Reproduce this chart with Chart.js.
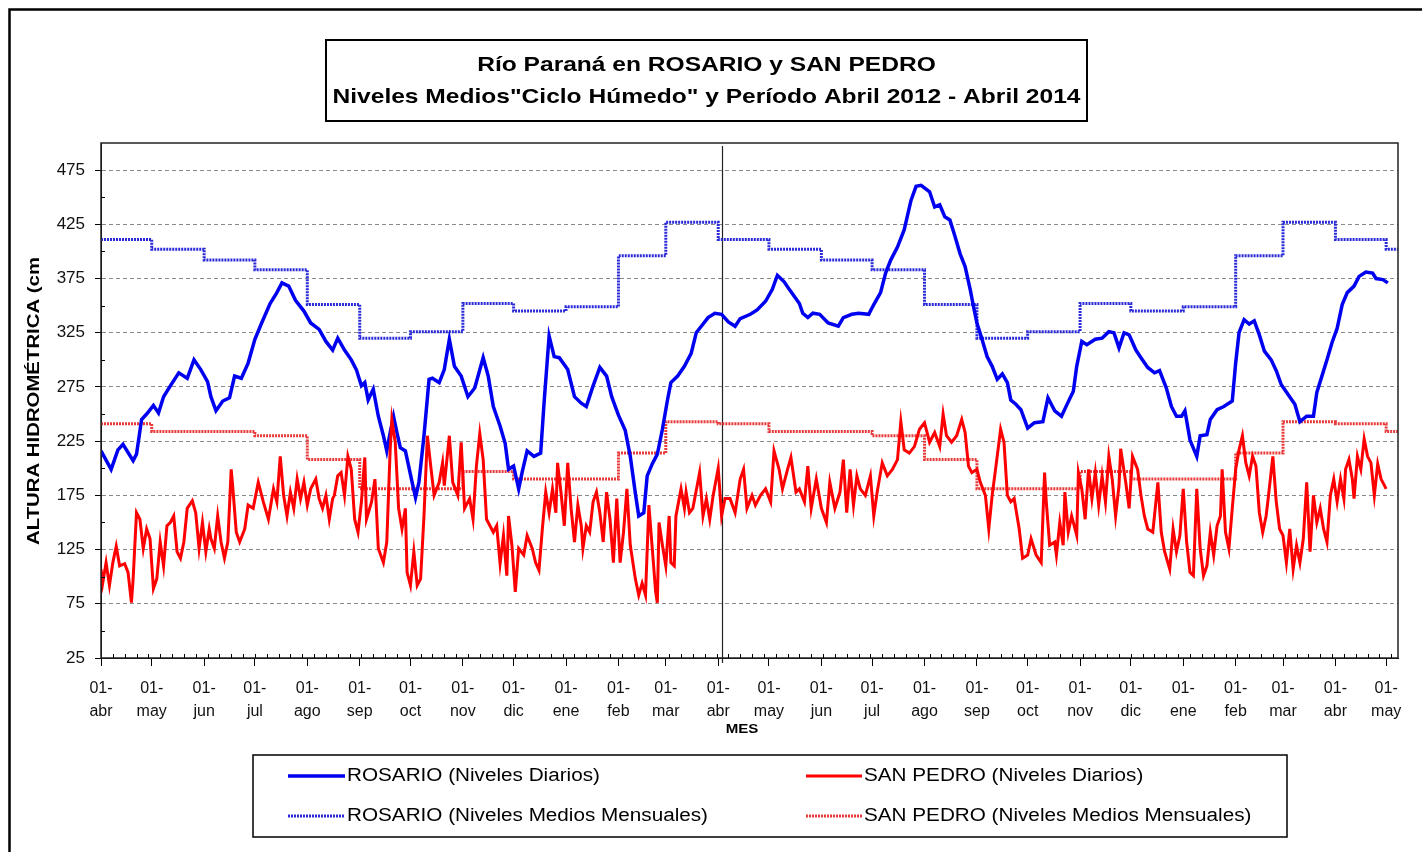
<!DOCTYPE html>
<html>
<head>
<meta charset="utf-8">
<title>Río Paraná en ROSARIO y SAN PEDRO</title>
<script src="https://cdn.jsdelivr.net/npm/chart.js@4.4.1/dist/chart.umd.min.js"></script>
<style>
  html, body { margin: 0; padding: 0; background: #fff; }
  canvas { display: block; }
</style>
</head>
<body>
<canvas id="grafico" width="1422" height="852"></canvas>
<script>
// niveles diarios: [dia desde 01-abr-2012, altura en cm]
const rosarioDiario = [
  [0,216],[6,199],[10,217],[13,222],[19,207],[21,213],[24,245],[27,250],[31,258],[34,251],[37,266],[41,276],
  [46,288],[51,283],[55,300],[59,291],[63,280],[65,266],[68,253],[72,262],[76,265],[79,285],[83,283],[87,297],
  [91,319],[95,334],[100,352],[104,362],[107,371],[111,368],[115,355],[120,345],[124,334],[129,328],[133,317],
  [137,309],[140,320],[144,309],[148,300],[151,291],[154,276],[156,279],[158,263],[161,273],[164,248],[167,230],
  [169,216],[171,233],[173,248],[175,233],[177,219],[180,216],[184,187],[186,173],[188,187],[191,230],[194,282],
  [196,283],[200,279],[203,291],[206,319],[209,294],[213,285],[217,266],[221,274],[226,302],[229,285],[232,257],
  [236,239],[239,223],[241,199],[244,202],[247,181],[249,196],[252,216],[256,211],[260,214],[262,260],[265,322],
  [268,303],[271,302],[276,291],[280,266],[284,260],[287,257],[291,276],[295,293],[299,285],[302,266],[306,249],
  [310,235],[313,211],[316,177],[318,156],[321,159],[323,193],[326,204],[329,213],[332,236],[335,263],[337,279],
  [341,285],[345,294],[349,306],[352,325],[355,331],[359,339],[363,343],[367,342],[371,335],[375,331],[378,338],
  [384,342],[388,346],[393,354],[397,365],[400,378],[404,372],[407,365],[413,352],[415,343],[418,339],[421,343],
  [425,342],[430,334],[436,331],[439,339],[444,342],[448,343],[454,342],[457,351],[461,362],[464,380],[467,392],
  [471,404],[475,420],[479,447],[482,460],[485,461],[490,455],[493,441],[496,443],[499,432],[502,429],[505,414],
  [508,398],[511,386],[514,365],[516,349],[518,334],[521,319],[524,303],[527,294],[530,282],[533,287],[536,279],
  [538,263],[541,259],[544,254],[548,237],[552,242],[557,243],[560,265],[564,253],[568,248],[571,258],[575,271],
  [577,294],[580,317],[583,314],[588,319],[592,320],[596,326],[599,325],[602,311],[605,325],[608,323],[612,309],
  [615,302],[619,293],[623,288],[626,290],[630,274],[633,257],[636,248],[639,248],[641,253],[644,226],[648,211],
  [650,230],[654,231],[656,245],[660,254],[664,257],[669,262],[671,297],[673,325],[676,337],[679,333],[682,336],
  [685,323],[688,308],[692,300],[695,290],[698,277],[702,268],[706,259],[709,243],[713,248],[717,248],[719,270],
  [722,285],[725,300],[728,316],[731,329],[734,351],[737,362],[741,368],[744,377],[748,381],[752,380],[754,375],
  [758,374],[761,371]
];

const sanPedroDiario = [
  [0,107],[1,94],[3,113],[5,92],[7,113],[9,128],[11,110],[14,112],[16,104],[18,76],[19,98],[21,159],[23,153],
  [25,126],[27,144],[29,135],[31,89],[33,98],[35,132],[37,110],[39,147],[41,150],[43,156],[45,123],[47,117],
  [49,132],[51,163],[54,170],[56,159],[58,126],[60,150],[62,123],[64,144],[65,135],[67,126],[69,156],[71,132],
  [73,117],[75,132],[77,199],[78,181],[80,141],[82,132],[85,144],[87,166],[90,163],[93,187],[96,169],[99,153],
  [102,181],[104,169],[106,211],[108,175],[110,156],[112,178],[114,163],[116,190],[118,172],[120,187],[122,166],
  [124,181],[127,190],[129,172],[131,163],[133,175],[135,153],[137,172],[138,175],[140,193],[142,196],[144,175],
  [146,211],[148,199],[150,153],[152,141],[154,169],[156,210],[157,153],[160,169],[162,190],[164,126],[167,113],
  [169,132],[171,217],[172,245],[174,224],[176,163],[178,144],[180,163],[181,104],[183,92],[185,123],[187,92],
  [189,98],[191,156],[193,230],[195,202],[197,175],[200,187],[202,205],[203,184],[206,230],[208,187],[211,175],
  [213,224],[215,163],[218,172],[220,153],[222,202],[224,232],[226,208],[228,153],[230,147],[232,141],[234,147],
  [236,112],[238,138],[240,101],[241,156],[243,129],[245,86],[247,126],[250,120],[252,138],[255,126],[257,113],
  [259,106],[261,144],[263,178],[265,159],[267,181],[269,159],[270,205],[272,178],[274,147],[276,205],[278,163],
  [280,132],[282,166],[284,147],[285,126],[287,147],[289,141],[291,169],[293,178],[295,159],[297,132],[299,178],
  [301,153],[303,113],[305,172],[307,113],[309,141],[311,181],[313,129],[316,98],[318,83],[320,94],[322,83],
  [324,166],[326,126],[328,86],[329,76],[330,150],[332,129],[334,110],[336,156],[337,113],[339,110],[340,156],
  [343,181],[345,163],[346,178],[348,159],[350,163],[354,196],[356,156],[358,172],[360,153],[362,175],[365,200],
  [367,156],[369,172],[372,172],[375,159],[378,190],[380,199],[382,163],[385,175],[387,166],[390,175],[393,181],
  [396,169],[398,216],[401,199],[403,181],[406,199],[408,210],[411,178],[413,181],[416,169],[418,202],[420,163],
  [423,190],[426,163],[429,150],[431,187],[434,163],[437,178],[439,208],[441,159],[443,199],[445,166],[447,193],
  [449,181],[452,175],[455,193],[457,156],[459,178],[462,205],[465,193],[468,199],[471,208],[473,243],[475,217],
  [478,214],[481,220],[484,236],[487,242],[490,224],[493,233],[496,220],[498,250],[500,230],[503,224],[506,230],
  [509,245],[511,233],[513,202],[515,196],[518,199],[520,187],[523,175],[525,144],[527,175],[529,199],[532,236],
  [534,224],[536,175],[538,169],[540,172],[543,144],[545,117],[548,120],[550,135],[553,120],[556,113],[558,196],
  [559,169],[561,129],[564,132],[565,120],[567,150],[569,129],[570,178],[572,141],[574,156],[577,138],[578,196],
  [580,181],[582,153],[584,199],[586,172],[588,196],[590,166],[592,193],[594,169],[596,211],[598,190],[600,156],
  [602,184],[603,218],[606,187],[608,163],[610,211],[613,199],[615,175],[617,156],[619,144],[622,141],[625,187],
  [627,141],[629,123],[632,107],[634,144],[636,123],[638,138],[640,181],[642,132],[644,104],[646,101],[648,181],
  [650,126],[652,101],[654,110],[656,141],[658,120],[660,147],[662,156],[663,199],[665,141],[667,126],[669,163],
  [671,199],[673,217],[675,230],[677,205],[679,193],[681,211],[683,202],[685,159],[687,141],[689,156],[690,169],
  [693,211],[695,169],[697,144],[699,138],[701,113],[703,144],[705,107],[707,129],[709,113],[711,135],[713,187],
  [715,123],[717,175],[719,150],[721,163],[723,144],[725,132],[727,175],[729,190],[731,169],[733,190],[735,172],
  [736,199],[738,208],[740,190],[741,172],[743,211],[745,199],[747,227],[749,211],[751,205],[753,175],[755,204],
  [757,190],[760,181]
];

// medias mensuales del ciclo humedo, de abril a marzo
const mediaRosario = [411, 402, 392, 383, 351, 320, 326, 352, 345, 349, 396, 427];
const mediaSanPedro = [241, 234, 234, 230, 208, 181, 181, 197, 190, 190, 214, 243];

const meses = ['abr', 'may', 'jun', 'jul', 'ago', 'sep', 'oct', 'nov', 'dic', 'ene', 'feb', 'mar'];
const ticksY = [25, 75, 125, 175, 225, 275, 325, 375, 425, 475];
const titulo = ['Río Paraná en ROSARIO y SAN PEDRO', 'Niveles Medios"Ciclo Húmedo" y Período Abril 2012 - Abril 2014'];
const etiquetaY = 'ALTURA HIDROMÉTRICA (cm';
const etiquetaX = 'MES';

const DIA_FIN = 767;    // borde derecho del eje
const DIA_CORTE = 367;  // linea vertical en abril 2013
const FUENTE = '"Liberation Sans", Arial, sans-serif';

const AZUL = '#0000f0';
const ROJO = '#ff0000';
const AZUL_MEDIA = '#2a2ad8';
const ROJO_MEDIA = '#e83a3a';

// dias de inicio de cada mes desde 01-abr-2012 hasta 01-may-2014
const inicio = Date.UTC(2012, 3, 1);
const inicioMes = [];
for (let i = 0; i <= 25; i++) {
  inicioMes.push((Date.UTC(2012, 3 + i, 1) - inicio) / 86400000);
}

function puntos(serie) {
  return serie.map(([x, y]) => ({ x, y }));
}

function escalones(media) {
  const pts = inicioMes.map((d, i) => ({ x: d, y: media[i % 12] }));
  pts.push({ x: DIA_FIN, y: media[(inicioMes.length - 1) % 12] });
  return pts;
}

function texto(ctx, str, x, y, font, align, estirar, rot) {
  ctx.save();
  ctx.translate(x, y);
  if (rot) ctx.rotate(rot);
  ctx.scale(estirar, 1);
  ctx.font = font;
  ctx.textAlign = align;
  ctx.textBaseline = 'middle';
  ctx.fillStyle = '#000';
  ctx.fillText(str, 0, 0);
  ctx.restore();
}

function estiramiento(ctx, str, font, ancho) {
  ctx.save();
  ctx.font = font;
  const w = ctx.measureText(str).width;
  ctx.restore();
  return ancho / w;
}

const marco = {
  id: 'marco',
  beforeDraw(chart) {
    const ctx = chart.ctx;
    ctx.save();
    ctx.fillStyle = '#fff';
    ctx.fillRect(0, 0, chart.width, chart.height);
    ctx.restore();
  },
  beforeDatasetsDraw(chart) {
    const { ctx, chartArea: a, scales: { x } } = chart;
    const px = Math.round(x.getPixelForValue(DIA_CORTE)) + 0.5;
    ctx.save();
    ctx.strokeStyle = '#222';
    ctx.lineWidth = 1.2;
    ctx.beginPath();
    ctx.moveTo(px, a.top + 3);
    ctx.lineTo(px, a.bottom + 5);
    ctx.stroke();
    ctx.restore();
  },
  afterDraw(chart) {
    const { ctx, chartArea: a, scales: { x, y } } = chart;
    ctx.save();

    // marco del area de trazado
    ctx.strokeStyle = '#222';
    ctx.lineWidth = 1.5;
    ctx.strokeRect(a.left, a.top, a.right - a.left, a.bottom - a.top);

    // marcas menores: semanas en x, cada 50 en y
    ctx.strokeStyle = '#000';
    ctx.lineWidth = 1;
    ctx.beginPath();
    for (let d = 7; d < DIA_FIN; d += 7) {
      const px = Math.round(x.getPixelForValue(d)) + 0.5;
      ctx.moveTo(px, a.bottom);
      ctx.lineTo(px, a.bottom - 4);
    }
    for (let v = 50; v < 500; v += 50) {
      const py = Math.round(y.getPixelForValue(v)) + 0.5;
      ctx.moveTo(a.left, py);
      ctx.lineTo(a.left + 4, py);
    }
    ctx.stroke();

    // marco exterior
    ctx.strokeStyle = '#000';
    ctx.lineWidth = 2.5;
    ctx.beginPath();
    ctx.moveTo(9.5, chart.height + 5);
    ctx.lineTo(9.5, 9.5);
    ctx.lineTo(chart.width + 5, 9.5);
    ctx.stroke();

    // caja del titulo
    ctx.lineWidth = 2;
    ctx.strokeRect(326, 40, 761, 81);
    const fT = 'bold 21px ' + FUENTE;
    const sT = estiramiento(ctx, titulo[1], fT, 748);
    texto(ctx, titulo[0], 706.5, 65, fT, 'center', sT);
    texto(ctx, titulo[1], 706.5, 97, fT, 'center', sT);

    // titulo eje y
    const fY = 'bold 17px ' + FUENTE;
    const sY = estiramiento(ctx, etiquetaY, fY, 288);
    texto(ctx, etiquetaY, 34, 401, fY, 'center', sY, -Math.PI / 2);

    // titulo eje x
    texto(ctx, etiquetaX, 742, 729, 'bold 13px ' + FUENTE, 'center', 1.16);

    // leyenda
    ctx.strokeStyle = '#000';
    ctx.lineWidth = 1.5;
    ctx.strokeRect(253, 755, 1034, 82);
    const fL = '18px ' + FUENTE;
    const sL = estiramiento(ctx, chart.data.datasets[2].label, fL, 361);
    const celdas = [
      { ds: 0, x0: 288, x1: 345, y: 776 },
      { ds: 1, x0: 806, x1: 862, y: 776 },
      { ds: 2, x0: 288, x1: 345, y: 816 },
      { ds: 3, x0: 806, x1: 862, y: 816 }
    ];
    celdas.forEach(c => {
      const ds = chart.data.datasets[c.ds];
      ctx.save();
      ctx.strokeStyle = ds.borderColor;
      ctx.lineWidth = ds.borderWidth;
      ctx.setLineDash(ds.borderDash || []);
      ctx.beginPath();
      ctx.moveTo(c.x0, c.y);
      ctx.lineTo(c.x1, c.y);
      ctx.stroke();
      ctx.restore();
      texto(ctx, ds.label, c.x1 + 2, c.y, fL, 'left', sL);
    });

    ctx.restore();
  }
};

new Chart(document.getElementById('grafico'), {
  type: 'line',
  data: {
    datasets: [
      {
        label: 'ROSARIO (Niveles Diarios)',
        data: puntos(rosarioDiario),
        borderColor: AZUL,
        borderWidth: 3.5,
        pointRadius: 0,
        tension: 0,
        order: 1
      },
      {
        label: 'SAN PEDRO (Niveles Diarios)',
        data: puntos(sanPedroDiario),
        borderColor: ROJO,
        borderWidth: 3,
        pointRadius: 0,
        tension: 0,
        order: 0
      },
      {
        label: 'ROSARIO (Niveles Medios Mensuales)',
        data: escalones(mediaRosario),
        borderColor: AZUL_MEDIA,
        borderWidth: 3,
        borderDash: [2, 1],
        stepped: true,
        pointRadius: 0,
        order: 2
      },
      {
        label: 'SAN PEDRO (Niveles Medios Mensuales)',
        data: escalones(mediaSanPedro),
        borderColor: ROJO_MEDIA,
        borderWidth: 3,
        borderDash: [2, 1],
        stepped: true,
        pointRadius: 0,
        order: 3
      }
    ]
  },
  options: {
    responsive: false,
    animation: false,
    layout: { padding: { left: 0, top: 143, right: 24, bottom: 0 } },
    plugins: {
      legend: { display: false },
      tooltip: { enabled: false }
    },
    scales: {
      x: {
        type: 'linear',
        min: 0,
        max: DIA_FIN,
        afterBuildTicks: scale => {
          scale.ticks = inicioMes.map(v => ({ value: v }));
        },
        afterFit: scale => {
          scale.height = 194;
        },
        ticks: {
          autoSkip: false,
          maxRotation: 0,
          padding: 11,
          color: '#111',
          font: { family: FUENTE, size: 16, lineHeight: 1.45 },
          callback: (value, index) => ['01-', meses[index % 12]]
        },
        grid: {
          drawOnChartArea: false,
          tickLength: 8,
          tickColor: '#000'
        },
        border: { display: true, color: '#000', width: 1 }
      },
      y: {
        min: 25,
        max: 500,
        afterBuildTicks: scale => {
          scale.ticks = ticksY.map(v => ({ value: v }));
        },
        afterFit: scale => {
          scale.width = 101;
        },
        ticks: {
          padding: 10,
          color: '#111',
          font: { family: FUENTE, size: 17 }
        },
        grid: {
          color: c => (c.tick && c.tick.value === 25 ? 'rgba(0,0,0,0)' : '#8a8a8a'),
          lineWidth: 1,
          tickLength: 6,
          tickColor: '#000'
        },
        border: { display: true, color: '#000', width: 1, dash: [4, 3] }
      }
    }
  },
  plugins: [marco]
});
</script>
</body>
</html>
